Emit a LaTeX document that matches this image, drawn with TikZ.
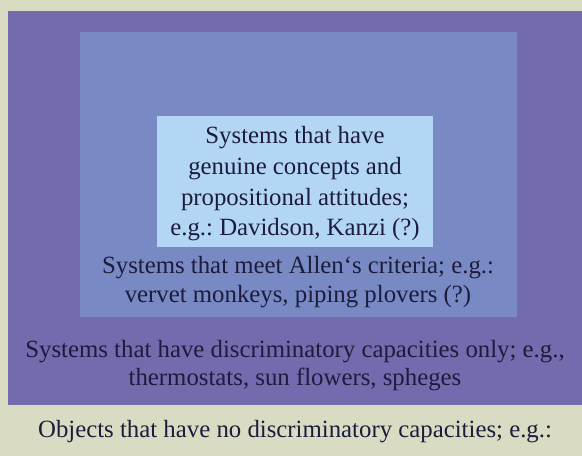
\documentclass[tikz,border=0pt]{standalone}
\usepackage{fontspec}
\setmainfont{Liberation Serif}
\frenchspacing
\definecolor{paper}{HTML}{D9DCC2}
\definecolor{outerband}{HTML}{736BAE}
\definecolor{midband}{HTML}{7889C3}
\definecolor{innerband}{HTML}{B4D6F5}
\definecolor{ink}{HTML}{1C1C3C}

\begin{document}
\begin{tikzpicture}[x=0.75pt, y=-0.75pt,
                    level text/.style={align=center, text=ink, inner sep=0pt,
                      font=\fontsize{18.6}{21.6}\selectfont}]

  \useasboundingbox (0,0) rectangle (582,456);
  \fill[paper] (0,0) rectangle (582,456);

  % nested areas
  \fill[outerband] (8,11) rectangle (582,405);
  \fill[midband] (80,32) rectangle (517,317);
  \fill[innerband] (157,116) rectangle (433,247);

  \node[level text, font=\fontsize{18.6}{23}\selectfont] (concepts) at (295,184)
    {Systems that have\\ genuine concepts and\\ propositional attitudes;\\ e.g.: Davidson, Kanzi (?)};
  \node[level text] (allen) at (298,282)
    {Systems that meet Allen‘s criteria; e.g.:\\ vervet monkeys, piping plovers (?)};
  \node[level text] (discrim) at (295,365.5)
    {Systems that have discriminatory capacities only; e.g.,\\ thermostats, sun flowers, spheges};
  \node[level text] (objects) at (295,432)
    {Objects that have no discriminatory capacities; e.g.:};
\end{tikzpicture}
\end{document}
